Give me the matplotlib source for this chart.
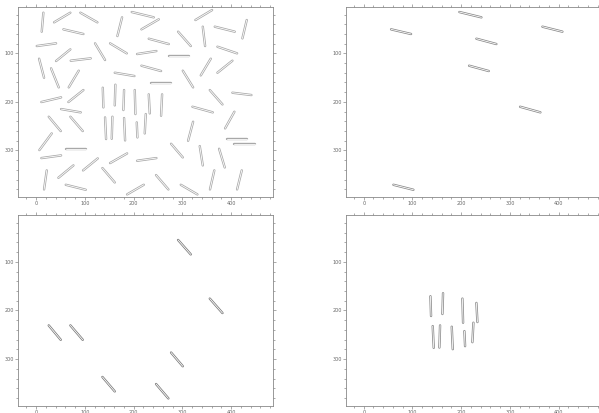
import matplotlib
matplotlib.use("Agg")
import matplotlib.pyplot as plt
from matplotlib.ticker import MultipleLocator

# segment endpoints (image coordinates, y grows downward)
x0 = [15.0, 36.9, 90.9, 176.4, 196.2, 216.1, 326.8, 341.9, 366.5, 432.1,
      56.1, 291.3, 231.1, 1.4, 121.0, 151.8, 207.2, 272.1, 372.0, 6.2,
      41.0, 71.1, 358.3, 402.7, 216.1, 30.8, 87.5, 161.4, 300.9, 236.6,
      10.9, 97.1, 356.3, 402.7, 51.3, 320.7, 26.0, 70.4, 406.8, 322.1,
      32.1, 60.9, 391.8, 406.2, 276.9, 335.7, 375.4, 10.9, 151.8, 207.2,
      96.4, 45.8, 136.1, 21.9, 60.9, 186.7, 246.1, 296.8, 365.6, 421.9,
      136.8, 162.7, 180.5, 202.4, 231.1, 258.5,
      141.5, 156.6, 180.5, 206.5, 225.0]
y0 = [16.2, 36.1, 16.2, 25.8, 14.8, 50.5, 31.3, 45.0, 45.0, 31.3,
      50.5, 55.3, 69.8, 84.9, 79.4, 79.4, 101.4, 104.8, 86.3, 111.0,
      115.8, 115.1, 111.0, 115.1, 125.4, 130.9, 135.7, 139.9, 135.7, 160.5,
      200.3, 175.6, 175.6, 181.1, 214.8, 210.0, 230.6, 230.6, 220.3, 240.9,
      265.0, 296.6, 275.9, 286.3, 286.3, 291.1, 296.6, 315.8, 326.1, 321.3,
      341.2, 356.4, 336.4, 341.2, 370.8, 390.7, 350.9, 370.8, 341.2, 341.2,
      170.8, 164.6, 175.6, 175.6, 184.5, 184.5,
      232.0, 230.6, 233.3, 242.3, 225.1]
x1 = [11.6, 70.3, 125.8, 166.8, 241.4, 251.6, 361.0, 346.7, 407.5, 423.2,
      97.1, 317.3, 272.1, 41.0, 141.5, 186.0, 246.8, 313.2, 412.3, 16.4,
      70.3, 112.1, 337.8, 372.0, 256.4, 46.5, 67.0, 201.7, 322.1, 277.6,
      51.3, 66.3, 382.3, 441.7, 91.6, 362.4, 50.6, 95.7, 387.7, 311.8,
      6.8, 102.6, 432.8, 449.2, 300.9, 341.9, 387.0, 51.3, 186.7, 246.8,
      126.5, 76.6, 161.4, 16.4, 101.9, 220.9, 271.4, 330.9, 356.7, 412.3,
      138.1, 161.4, 179.1, 203.8, 233.2, 256.4,
      143.6, 155.2, 182.6, 207.9, 222.9]
y1 = [55.3, 16.2, 36.1, 64.3, 25.8, 29.9, 10.7, 84.9, 55.3, 69.1,
      60.1, 84.9, 80.8, 79.4, 113.7, 100.0, 95.2, 104.8, 100.0, 150.2,
      91.8, 110.3, 145.4, 139.9, 136.4, 170.1, 170.1, 146.7, 170.1, 160.5,
      190.7, 200.3, 205.2, 185.9, 221.6, 221.6, 260.1, 260.1, 254.6, 280.1,
      299.3, 296.6, 275.9, 286.3, 314.4, 330.9, 335.1, 310.3, 306.2, 315.8,
      316.5, 330.9, 366.0, 380.4, 381.1, 370.8, 380.4, 390.7, 380.4, 380.4,
      211.3, 207.2, 216.8, 225.1, 223.7, 228.5,
      276.6, 276.0, 279.4, 273.2, 265.0]

# which segments show up in each panel
panel_all = list(range(len(x0)))
panel_shallow = [4, 8, 10, 12, 24, 35, 54]
panel_steep = [11, 32, 36, 37, 44, 52, 56]
panel_vertical = [60, 61, 63, 64, 66, 67, 68, 69, 70]
panels = [panel_all, panel_shallow, panel_steep, panel_vertical]
edge_colors = ["#a8a8a8", "#8a8a8a", "#7a7a7a", "#8a8a8a"]

positions = [
    [0.0301, 0.5230, 0.4257, 0.4600],
    [0.5771, 0.5230, 0.4257, 0.4600],
    [0.0301, 0.0169, 0.4257, 0.4620],
    [0.5771, 0.0169, 0.4257, 0.4620],
]

fig = plt.figure(figsize=(5.99, 4.13), dpi=100)
for pos, idx, ec in zip(positions, panels, edge_colors):
    ax = fig.add_axes(pos)
    for i in idx:
        ax.plot([x0[i], x1[i]], [y0[i], y1[i]], color=ec, lw=1.7,
                solid_capstyle="round")
        ax.plot([x0[i], x1[i]], [y0[i], y1[i]], color="white", lw=0.6,
                solid_capstyle="round")
    ax.set_xlim(-37, 486)
    ax.set_ylim(396, 4.5)
    ax.xaxis.set_major_locator(MultipleLocator(100))
    ax.xaxis.set_minor_locator(MultipleLocator(20))
    ax.yaxis.set_major_locator(MultipleLocator(100))
    ax.yaxis.set_minor_locator(MultipleLocator(20))
    ax.tick_params(which="both", direction="out", top=True, right=True,
                   colors="#888888", width=0.5, labelsize=3.5,
                   labelcolor="#666666", pad=0.6)
    ax.tick_params(which="major", length=2.2)
    ax.tick_params(which="minor", length=1.4)
    for s in ax.spines.values():
        s.set_color("#888888")
        s.set_linewidth(0.6)

fig.savefig("out.png", dpi=100)
